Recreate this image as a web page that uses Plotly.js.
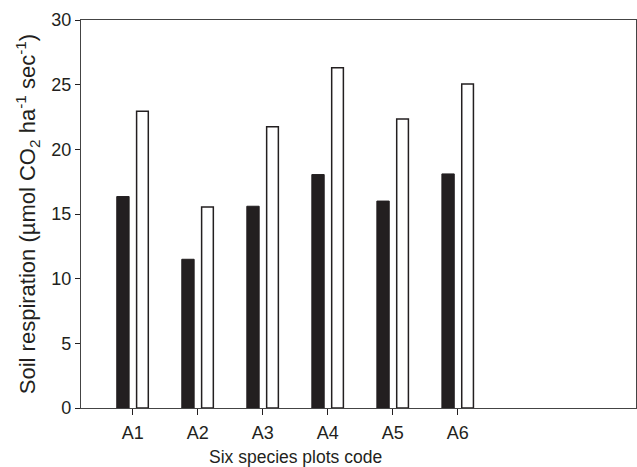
<!DOCTYPE html>
<html>
<head>
<meta charset="utf-8">
<script src="https://cdn.plot.ly/plotly-3.0.1.min.js"></script>
<style>html,body{margin:0;padding:0;background:#fff;}#chart{width:637px;height:467px;}</style>
</head>
<body>
<div id="chart"></div>
<script>
const categories = ['A1', 'A2', 'A3', 'A4', 'A5', 'A6'];
const darkValues = [16.35, 11.5, 15.6, 18.05, 16.0, 18.1];
const whiteValues = [22.95, 15.55, 21.75, 26.3, 22.35, 25.05];
const yTicks = [0, 5, 10, 15, 20, 25, 30];

const ink = '#231f20';
const traces = [
  {
    type: 'bar', x: categories, y: darkValues,
    width: 0.19, offset: -0.245,
    marker: {color: ink, line: {color: ink, width: 1}},
    showlegend: false, hoverinfo: 'x+y'
  },
  {
    type: 'bar', x: categories, y: whiteValues,
    width: 0.18, offset: 0.06,
    marker: {color: '#ffffff', line: {color: ink, width: 1.5}},
    showlegend: false, hoverinfo: 'x+y'
  }
];

const layout = {
  width: 637, height: 467,
  margin: {l: 81, r: 1, t: 20, b: 59},
  paper_bgcolor: '#fff', plot_bgcolor: '#fff',
  font: {family: 'Liberation Sans, Arial, sans-serif', color: ink, size: 18},
  barmode: 'overlay',
  xaxis: {
    type: 'category', range: [-0.795, 7.74],
    showline: true, linecolor: '#444', linewidth: 1.2, mirror: true,
    ticks: 'outside', ticklen: 6, tickcolor: ink, tickwidth: 1,
    ticklabelstandoff: 2,
    showgrid: false, zeroline: false,
    tickfont: {size: 18, color: ink}
  },
  yaxis: {
    range: [0, 30], tickvals: yTicks,
    showline: true, linecolor: '#444', linewidth: 1.2, mirror: true,
    ticks: 'outside', ticklen: 5, tickcolor: ink, tickwidth: 1,
    showgrid: false, zeroline: false,
    tickfont: {size: 18, color: ink},
    title: {text: 'Soil respiration (µmol CO<sub>2</sub> ha<sup>-1</sup> sec<sup>-1</sup>)', font: {size: 22, color: ink}, standoff: 9}
  },
  annotations: [
    {text: 'Six species plots code', xref: 'x', yref: 'paper', x: 2.5, y: 0, yshift: -37,
     xanchor: 'center', yanchor: 'top', showarrow: false, font: {size: 17.5, color: ink}}
  ]
};

Plotly.newPlot('chart', traces, layout, {displayModeBar: false, staticPlot: true});
</script>
</body>
</html>
